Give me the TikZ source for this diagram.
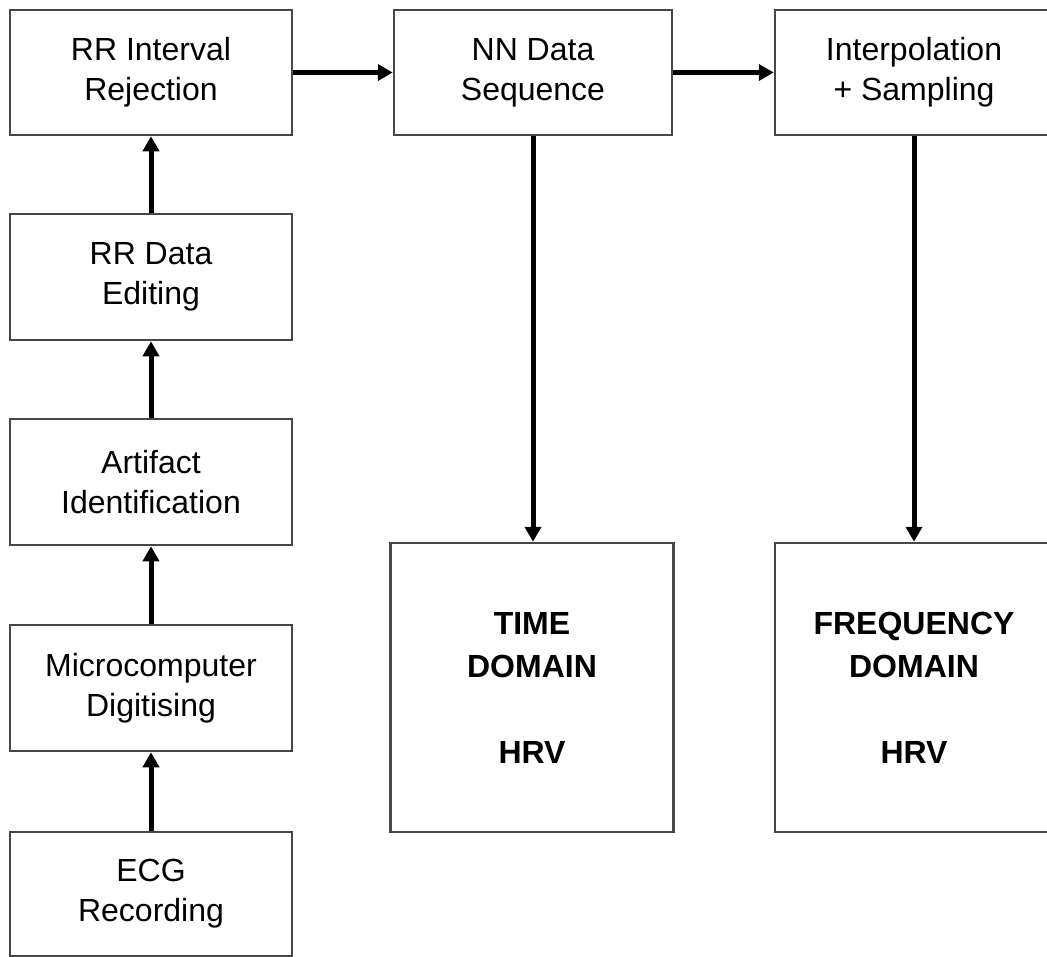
\documentclass[tikz,border=0pt]{standalone}
\usepackage{fontspec}
\setmainfont{Liberation Sans}
\usetikzlibrary{arrows.meta}
\begin{document}
\begin{tikzpicture}[x=1pt,y=-1pt,
  box/.style={draw=black!72, line width=2.5pt, align=center, inner sep=0pt,
    fill=white, font=\fontsize{32}{40}\selectfont},
  stepbox/.style={box, minimum width=282pt, minimum height=125pt},
  bigbox/.style={box, minimum height=289pt, font=\bfseries\fontsize{32}{43}\selectfont},
  link/.style={line width=5pt, -{Triangle[length=15pt,width=16pt]}}]
\clip (0,0) rectangle (1047,956);

% left column: acquisition and editing chain (bottom to top)
\node[stepbox] (rej)  at (151,72.5)  {RR Interval\\Rejection};
\node[stepbox, minimum height=126pt] (edit) at (151,277)   {RR Data\\Editing};
\node[stepbox, minimum height=126pt] (art)  at (151,482)   {Artifact\\Identification};
\node[stepbox, minimum height=126pt] (dig)  at (151,688)   {Microcomputer\\Digitising};
\node[stepbox, minimum height=124pt] (ecg)  at (151,894)   {ECG\\Recording};

% top row
\node[stepbox, minimum width=278pt] (nn)     at (533,72.5) {NN Data\\Sequence};
\node[stepbox, minimum width=278pt] (interp) at (914,72.5) {Interpolation\\+ Sampling};

% analysis results
\node[bigbox, minimum width=283pt] (time) at (532,687.5) {TIME\\DOMAIN\\[43pt]HRV};
\node[bigbox, minimum width=278pt] (freq) at (914,687.5) {FREQUENCY\\DOMAIN\\[43pt]HRV};

% connectors
\draw[link] (ecg) -- (dig);
\draw[link] (dig) -- (art);
\draw[link] (art) -- (edit);
\draw[link] (edit) -- (rej);
\draw[link] (rej) -- (nn);
\draw[link] (nn) -- (interp);
\draw[link] (nn.south) -- (nn.south |- time.north);
\draw[link] (interp) -- (freq);
\end{tikzpicture}
\end{document}
